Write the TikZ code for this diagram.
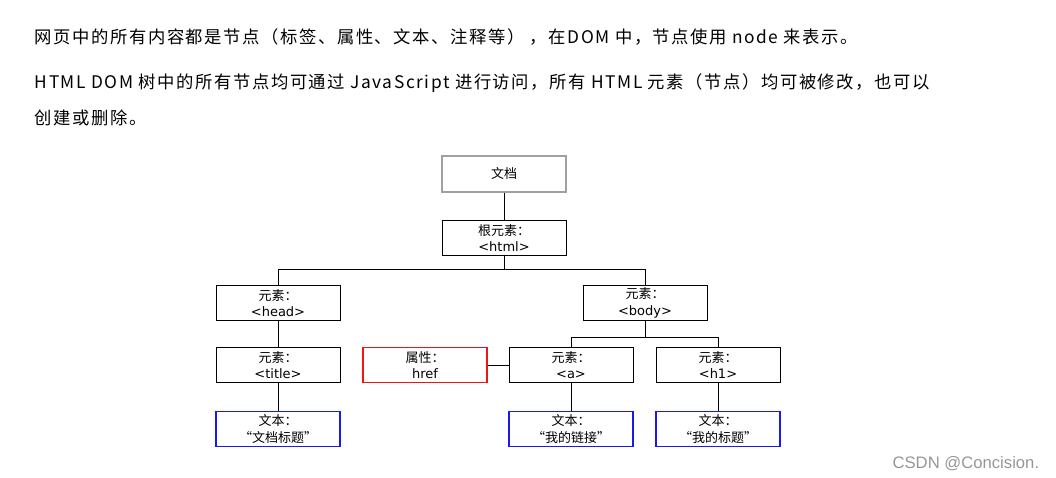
\documentclass[tikz,border=0pt]{standalone}
\usepackage{fontspec}
\setmainfont{Noto Sans CJK SC}
\newfontfamily\parafont[LetterSpace=9]{Noto Sans CJK SC}
\newfontfamily\boxfont{DejaVu Sans}
\newfontfamily\markfont{Liberation Sans}
\definecolor{framegray}{RGB}{160,160,160}
\definecolor{attrred}{RGB}{240,20,20}
\definecolor{textblue}{RGB}{24,24,240}
\definecolor{markgray}{RGB}{150,150,150}

\begin{document}
\begin{tikzpicture}[x=0.75pt,y=-0.75pt,line width=0.75pt,every node/.style={inner sep=1pt},
  dombox/.style={draw,line width=0.75pt,minimum width=93pt,minimum height=26.5pt,align=center,
    font=\fontsize{9.75pt}{12.5pt}\selectfont},
  docbox/.style={dombox,draw=framegray,line width=1.5pt},
  attrbox/.style={dombox,draw=attrred,line width=1pt},
  textbox/.style={dombox,draw=textblue,line width=0.8pt},
  para/.style={anchor=base west,font=\parafont\fontsize{13pt}{14pt}\selectfont}]
  \useasboundingbox (0,0) rectangle (1056,478);
  % intro text
  \node[para] (line1) at (33,44) {网页中的所有内容都是节点（标签、属性、文本、注释等） ，在DOM 中，节点使用 node 来表示。};
  \node[para] (line2) at (33,89) {HTML DOM 树中的所有节点均可通过 JavaScript 进行访问，所有 HTML 元素（节点）均可被修改，也可以};
  \node[para] (line3) at (33,124) {创建或删除。};
  % tree
  \node[docbox] (doc) at (504,174) {文档};
  \node[dombox] (root) at (504,238) {根元素：\\{\boxfont <html>}};
  \node[dombox] (head) at (278,303) {元素：\\{\boxfont <head>}};
  \node[dombox] (body) at (645,303) {元素：\\{\boxfont <body>}};
  \node[dombox] (title) at (278,365) {元素：\\{\boxfont <title>}};
  \node[attrbox] (href) at (425,365) {属性：\\{\boxfont href}};
  \node[dombox] (anchor) at (571,365) {元素：\\{\boxfont <a>}};
  \node[dombox] (hone) at (718,365) {元素：\\{\boxfont <h1>}};
  \node[textbox] (titletext) at (278,429) {文本：\\“文档标题”};
  \node[textbox] (linktext) at (571,429) {文本：\\“我的链接”};
  \node[textbox] (honetext) at (718,429) {文本：\\“我的标题”};
  \coordinate (rootbus) at (504,269);
  \coordinate (bodybus) at (645,337);
  \draw (doc) -- (root);
  \draw (root.south) -- (rootbus) -| (head.north);
  \draw (rootbus) -| (body.north);
  \draw (head) -- (title);
  \draw (title) -- (titletext);
  \draw (body.south) -- (bodybus) -| (anchor.north);
  \draw (bodybus) -| (hone.north);
  \draw (href) -- (anchor);
  \draw (anchor) -- (linktext);
  \draw (hone) -- (honetext);
  % watermark
  \node[anchor=base east,text=markgray,font=\markfont\fontsize{12.5pt}{14pt}\selectfont] (mark) at (1041,468) {CSDN @Concision.};
\end{tikzpicture}
\end{document}
